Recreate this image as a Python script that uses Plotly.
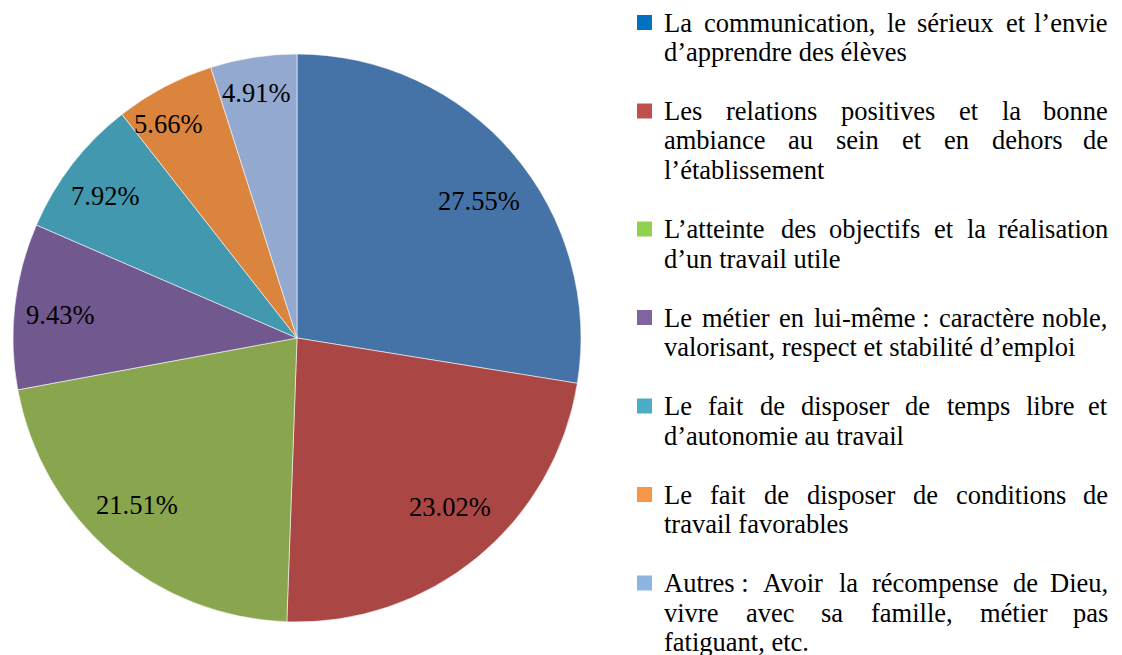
import math
import plotly.graph_objects as go

# ---------------- data ----------------
categories = [
    "La communication, le sérieux et l’envie d’apprendre des élèves",
    "Les relations positives et la bonne ambiance au sein et en dehors de l’établissement",
    "L’atteinte des objectifs et la réalisation d’un travail utile",
    "Le métier en lui-même : caractère noble, valorisant, respect et stabilité d’emploi",
    "Le fait de disposer de temps libre et d’autonomie au travail",
    "Le fait de disposer de conditions de travail favorables",
    "Autres : Avoir la récompense de Dieu, vivre avec sa famille, métier pas fatiguant, etc.",
]
values = [27.55, 23.02, 21.51, 9.43, 7.92, 5.66, 4.91]
value_labels = ["27.55%", "23.02%", "21.51%", "9.43%", "7.92%", "5.66%", "4.91%"]

# legend text as it is broken into lines in the reference
legend_lines = [
    ["La communication, le sérieux et l’envie", "d’apprendre des élèves"],
    ["Les relations positives et la bonne", "ambiance au sein et en dehors de", "l’établissement"],
    ["L’atteinte des objectifs et la réalisation", "d’un travail utile"],
    ["Le métier en lui-même\u00a0: caractère noble,", "valorisant, respect et stabilité d’emploi"],
    ["Le fait de disposer de temps libre et", "d’autonomie au travail"],
    ["Le fait de disposer de conditions de", "travail favorables"],
    ["Autres\u00a0: Avoir la récompense de Dieu,", "vivre avec sa famille, métier pas", "fatiguant, etc."],
]

# ---------------- style ----------------
pie_colors = ["#4673A7", "#AA4643", "#89A54E", "#71588F", "#4198AF", "#DB843D", "#93A9CF"]
legend_colors = ["#0070C0", "#C0504D", "#92D050", "#8064A2", "#4BACC6", "#F79646", "#8DB4E2"]
label_radius = [0.80, 0.80, 0.81, 0.84, 0.84, 0.88, 0.87]
label_nudge = [(9, 10), (9, -7), (-10, -7), (0, 4), (-3, 4), (-12, 7), (-3, -1)]  # px

W, H = 1122, 655
FONT = "'Liberation Serif', 'Times New Roman', serif"
FS = 26.5
cx, cy, R = 297, 338, 284

def px(x):
    return x / W

def py(y):
    return 1 - y / H

# Times New Roman / Liberation Serif advance widths (em)
CW = {' ': .25, '\u00a0': .25, ',': .25, '.': .25, ':': .278, '-': .333, '\u2019': .333,
      'a': .444, 'b': .5, 'c': .444, 'd': .5, 'e': .444, 'f': .333, 'g': .5, 'h': .5,
      'i': .278, 'j': .278, 'k': .5, 'l': .278, 'm': .778, 'n': .5, 'o': .5, 'p': .5,
      'q': .5, 'r': .333, 's': .389, 't': .278, 'u': .5, 'v': .5, 'w': .722, 'x': .5,
      'y': .5, 'z': .444, 'é': .444, 'è': .444, 'ê': .444, 'L': .611, 'A': .722, 'D': .722}

def text_w(s):
    return sum(CW.get(ch, .5) for ch in s) * FS

fig = go.Figure()
fig.add_trace(go.Pie(
    values=values, labels=categories, sort=False, direction="clockwise", rotation=0,
    marker=dict(colors=pie_colors, line=dict(color="rgba(255,255,255,0.7)", width=0.8)),
    textinfo="none", showlegend=False, hoverinfo="skip",
    domain=dict(x=[px(cx - R), px(cx + R)], y=[py(cy + R), py(cy - R)]),
))

annotations = []
total = sum(values)
cum = 0.0
for v, lab, rf, (ndx, ndy) in zip(values, value_labels, label_radius, label_nudge):
    mid = (cum + v / 2) / total
    cum += v
    th = 2 * math.pi * mid
    x = cx + rf * R * math.sin(th) + ndx
    y = cy - rf * R * math.cos(th) + ndy
    annotations.append(dict(x=px(x), y=py(y), xref="paper", yref="paper", text=lab,
                            showarrow=False, xanchor="center", yanchor="middle",
                            borderpad=0, font=dict(family=FONT, size=FS, color="black")))

# legend (drawn manually, justified like the reference)
X0, X1 = 663, 1109
Y0, STEP = 22.5, 29.5
shapes = []
row = 0
for lines, col in zip(legend_lines, legend_colors):
    yc = Y0 + STEP * row
    shapes.append(dict(type="rect", xref="paper", yref="paper",
                       x0=px(637), x1=px(652), y0=py(yc + 7.5), y1=py(yc - 7.5),
                       fillcolor=col, line=dict(width=0)))
    for j, line in enumerate(lines):
        y = Y0 + STEP * (row + j)
        justify = j < len(lines) - 1
        words = line.split(" ")
        if justify and len(words) > 1:
            ws = [text_w(w) for w in words]
            gap = (X1 - X0 - sum(ws)) / (len(words) - 1)
            x = X0
            for k, (w, wd) in enumerate(zip(words, ws)):
                last = k == len(words) - 1
                annotations.append(dict(x=px(X1 if last else x), y=py(y), xref="paper", yref="paper",
                                        text=w, showarrow=False,
                                        xanchor="right" if last else "left",
                                        yanchor="middle", borderpad=0,
                                        font=dict(family=FONT, size=FS, color="black")))
                x += wd + gap
        else:
            annotations.append(dict(x=px(X0), y=py(y), xref="paper", yref="paper",
                                    text=line, showarrow=False, xanchor="left",
                                    yanchor="middle", borderpad=0,
                                    font=dict(family=FONT, size=FS, color="black")))
    row += len(lines) + 1

fig.update_layout(width=W, height=H, margin=dict(l=0, r=0, t=0, b=0),
                  paper_bgcolor="white", plot_bgcolor="white",
                  annotations=annotations, shapes=shapes, showlegend=False)

fig.write_html("out.html", config={"displayModeBar": False},
               post_script="document.body.style.margin='0';document.body.style.overflow='hidden';")
